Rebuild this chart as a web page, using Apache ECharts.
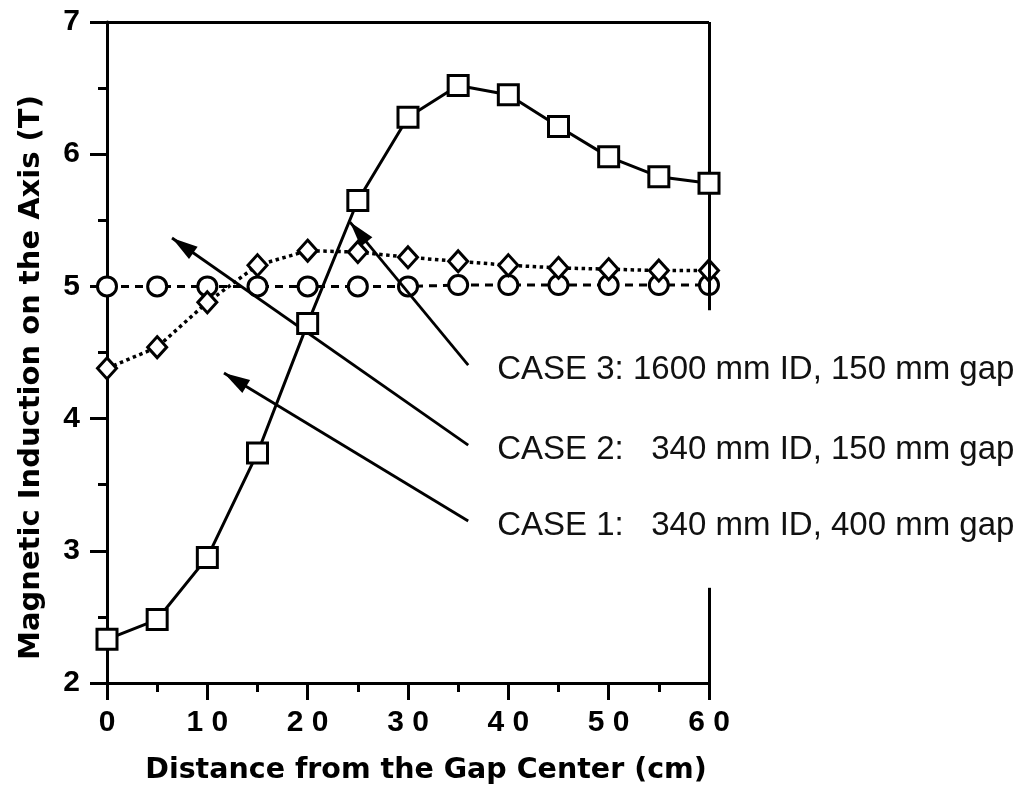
<!DOCTYPE html>
<html>
<head>
<meta charset="utf-8">
<script src="https://cdn.jsdelivr.net/npm/echarts@6/dist/echarts.min.js"></script>
<style>
html, body { margin: 0; padding: 0; background: #fff; }
#chart { width: 1024px; height: 793px; }
</style>
</head>
<body>
<div id="chart"></div>
<script>
// distance from gap center (cm)
const distance = [0, 5, 10, 15, 20, 25, 30, 35, 40, 45, 50, 55, 60]
// magnetic induction (T)
const case1 = [5.0, 5.0, 5.0, 5.0, 5.0, 5.0, 5.0, 5.01, 5.01, 5.01, 5.01, 5.01, 5.01]
const case2 = [4.38, 4.54, 4.88, 5.16, 5.27, 5.26, 5.22, 5.19, 5.16, 5.14, 5.13, 5.12, 5.12]
const case3 = [2.33, 2.48, 2.95, 3.74, 4.72, 5.65, 6.28, 6.52, 6.45, 6.21, 5.98, 5.83, 5.78]

const xTickLabels = ['0', '1 0', '2 0', '3 0', '4 0', '5 0', '6 0']
const yTickLabels = ['2', '3', '4', '5', '6', '7']

const caseNames = [
  'CASE 1:   340 mm ID, 400 mm gap',
  'CASE 2:   340 mm ID, 150 mm gap',
  'CASE 3: 1600 mm ID, 150 mm gap'
]
// arrow tail / tip in data coords
const arrowTails = [[36, 3.225], [36, 3.80], [36, 4.405]]
const arrowTips = [[11.66, 4.345], [6.48, 5.366], [24.22, 5.487]]
// open part of the right frame (T)
const rightGap = [2.72, 4.82]

const pair = ys => distance.map((x, i) => [x, ys[i]])
const black = '#000'

const chart = echarts.init(document.getElementById('chart'))

const axisCommon = {
  type: 'value',
  axisLine: { show: true, lineStyle: { color: black, width: 3 } },
  axisTick: { show: true, inside: false, length: 17, lineStyle: { color: black, width: 3 } },
  minorTick: { show: true, splitNumber: 2, length: 9, lineStyle: { color: black, width: 3 } },
  splitLine: { show: false },
  minorSplitLine: { show: false }
}

const option = {
  animation: false,
  backgroundColor: '#fff',
  grid: { left: 107, right: 315, top: 22, bottom: 110 },
  xAxis: Object.assign({}, axisCommon, {
    min: 0,
    max: 60,
    interval: 10,
    name: 'Distance from the Gap Center (cm)',
    nameLocation: 'middle',
    nameGap: 73,
    nameTextStyle: {
      fontFamily: 'DejaVu Sans', fontWeight: 'bold', fontSize: 28.5, color: black,
      padding: [0, 0, 0, 36]
    },
    axisLabel: {
      margin: 25,
      fontFamily: 'Liberation Sans', fontWeight: 'bold', fontSize: 30, color: black,
      formatter: v => xTickLabels[v / 10]
    }
  }),
  yAxis: Object.assign({}, axisCommon, {
    min: 2,
    max: 7,
    interval: 1,
    name: 'Magnetic Induction on the Axis (T)',
    nameLocation: 'middle',
    nameGap: 61,
    nameTextStyle: {
      fontFamily: 'DejaVu Sans', fontWeight: 'bold', fontSize: 29, color: black,
      padding: [0, 50, 0, 0]
    },
    axisLabel: {
      margin: 27,
      fontFamily: 'Liberation Sans', fontWeight: 'bold', fontSize: 30, color: black,
      formatter: v => yTickLabels[v - 2]
    }
  }),
  series: [
    {
      name: caseNames[0],
      type: 'line',
      data: pair(case1),
      clip: false,
      symbol: 'circle',
      symbolSize: 19,
      itemStyle: { color: '#fff', borderColor: black, borderWidth: 3 },
      lineStyle: { color: black, width: 3, type: [8, 6] },
      emphasis: { disabled: true },
      z: 3,
      markLine: {
        silent: true,
        symbol: ['none', 'none'],
        label: { show: false },
        lineStyle: { color: black, width: 3, type: 'solid' },
        data: [
          [{ coord: [0, 7] }, { coord: [60, 7] }],
          [{ coord: [60, 7] }, { coord: [60, rightGap[1]] }],
          [{ coord: [60, rightGap[0]] }, { coord: [60, 2] }]
        ]
      }
    },
    {
      name: caseNames[1],
      type: 'line',
      data: pair(case2),
      clip: false,
      symbol: 'diamond',
      symbolSize: [19, 21],
      itemStyle: { color: '#fff', borderColor: black, borderWidth: 3 },
      lineStyle: { color: black, width: 3.5, type: [3.5, 3.5] },
      emphasis: { disabled: true },
      z: 4
    },
    {
      name: caseNames[2],
      type: 'line',
      data: pair(case3),
      clip: false,
      symbol: 'rect',
      symbolSize: 20,
      itemStyle: { color: '#fff', borderColor: black, borderWidth: 3 },
      lineStyle: { color: black, width: 3, type: 'solid' },
      emphasis: { disabled: true },
      z: 5,
      markLine: {
        silent: true,
        symbol: ['none', 'none'],
        label: { show: false },
        lineStyle: { color: black, width: 2.8, type: 'solid' },
        data: arrowTails.map((t, i) => [{ coord: t }, { coord: arrowTips[i] }])
      }
    }
  ]
}

chart.setOption(option)

// arrow heads and case labels, placed from the data coords
const toPx = c => chart.convertToPixel({ gridIndex: 0 }, c)
const headLen = 26
const headHalf = 7.5
const graphics = []
arrowTails.forEach((t, i) => {
  const a = toPx(t)
  const b = toPx(arrowTips[i])
  const dx = b[0] - a[0]
  const dy = b[1] - a[1]
  const len = Math.sqrt(dx * dx + dy * dy)
  const ux = dx / len
  const uy = dy / len
  const bx = b[0] - ux * headLen
  const by = b[1] - uy * headLen
  graphics.push({
    type: 'polygon',
    z: 10,
    shape: { points: [b, [bx - uy * headHalf, by + ux * headHalf], [bx + uy * headHalf, by - ux * headHalf]] },
    style: { fill: black }
  })
  graphics.push({
    type: 'text',
    x: a[0] + 29,
    y: a[1] + 5,
    z: 10,
    style: {
      text: caseNames[i],
      fontFamily: 'Liberation Sans',
      fontSize: 33,
      fill: '#111',
      textAlign: 'left',
      textVerticalAlign: 'middle'
    }
  })
})
chart.setOption({ graphic: graphics })
</script>
</body>
</html>
